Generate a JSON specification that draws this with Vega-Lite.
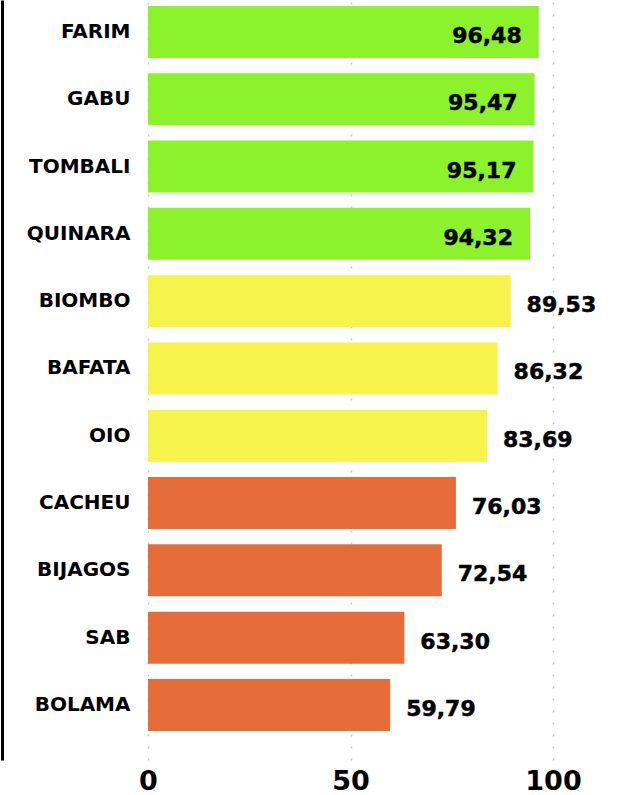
{
  "$schema": "https://vega.github.io/schema/vega-lite/v6.json",
  "autosize": "none",
  "width": 405,
  "height": 760,
  "padding": {"left": 148, "top": 0, "right": 66, "bottom": 35},
  "background": "white",
  "config": {
    "view": {"stroke": null},
    "font": "DejaVu Sans",
    "locale": {"number": {"decimal": ",", "thousands": ".", "grouping": [3], "currency": ["", ""]}}
  },
  "data": {"values": [
    {"regiao": "FARIM", "valor": 96.48, "grupo": "alto"},
    {"regiao": "GABU", "valor": 95.47, "grupo": "alto"},
    {"regiao": "TOMBALI", "valor": 95.17, "grupo": "alto"},
    {"regiao": "QUINARA", "valor": 94.32, "grupo": "alto"},
    {"regiao": "BIOMBO", "valor": 89.53, "grupo": "medio"},
    {"regiao": "BAFATA", "valor": 86.32, "grupo": "medio"},
    {"regiao": "OIO", "valor": 83.69, "grupo": "medio"},
    {"regiao": "CACHEU", "valor": 76.03, "grupo": "baixo"},
    {"regiao": "BIJAGOS", "valor": 72.54, "grupo": "baixo"},
    {"regiao": "SAB", "valor": 63.30, "grupo": "baixo"},
    {"regiao": "BOLAMA", "valor": 59.79, "grupo": "baixo"}
  ]},
  "encoding": {
    "y": {
      "field": "regiao", "type": "nominal", "sort": null, "title": null,
      "scale": {"paddingInner": 0.227, "paddingOuter": 0.26, "align": 0.17},
      "axis": {
        "offset": 146, "domain": true, "domainColor": "black", "domainWidth": 3,
        "ticks": false, "labelPadding": -128, "labelFontSize": 20,
        "labelFontWeight": "bold", "labelColor": "black", "grid": false
      }
    },
    "x": {
      "field": "valor", "type": "quantitative", "title": null,
      "scale": {"domain": [0, 100], "nice": false},
      "axis": {
        "values": [0, 50, 100], "domain": false, "ticks": false,
        "grid": true, "gridColor": "#c8c8c8", "gridDash": [2, 10], "gridWidth": 1.5,
        "labelFontSize": 27, "labelFontWeight": "bold", "labelColor": "black",
        "labelPadding": 8, "labelFlush": false
      }
    }
  },
  "layer": [
    {
      "mark": {"type": "bar"},
      "encoding": {
        "color": {
          "field": "grupo", "type": "nominal", "legend": null,
          "scale": {"domain": ["alto", "medio", "baixo"], "range": ["#8cf22c", "#f6f44a", "#e66d3a"]}
        }
      }
    },
    {
      "transform": [{"filter": "datum.valor > 90"}],
      "mark": {"type": "text", "align": "right", "baseline": "middle", "dx": -17, "dy": 4, "fontSize": 22, "fontWeight": "bold", "color": "black", "stroke": "black", "strokeWidth": 0.5},
      "encoding": {"text": {"field": "valor", "type": "quantitative", "format": ".2f"}}
    },
    {
      "transform": [{"filter": "datum.valor <= 90"}],
      "mark": {"type": "text", "align": "left", "baseline": "middle", "dx": 16, "dy": 4, "fontSize": 22, "fontWeight": "bold", "color": "black", "stroke": "black", "strokeWidth": 0.5},
      "encoding": {"text": {"field": "valor", "type": "quantitative", "format": ".2f"}}
    }
  ]
}
